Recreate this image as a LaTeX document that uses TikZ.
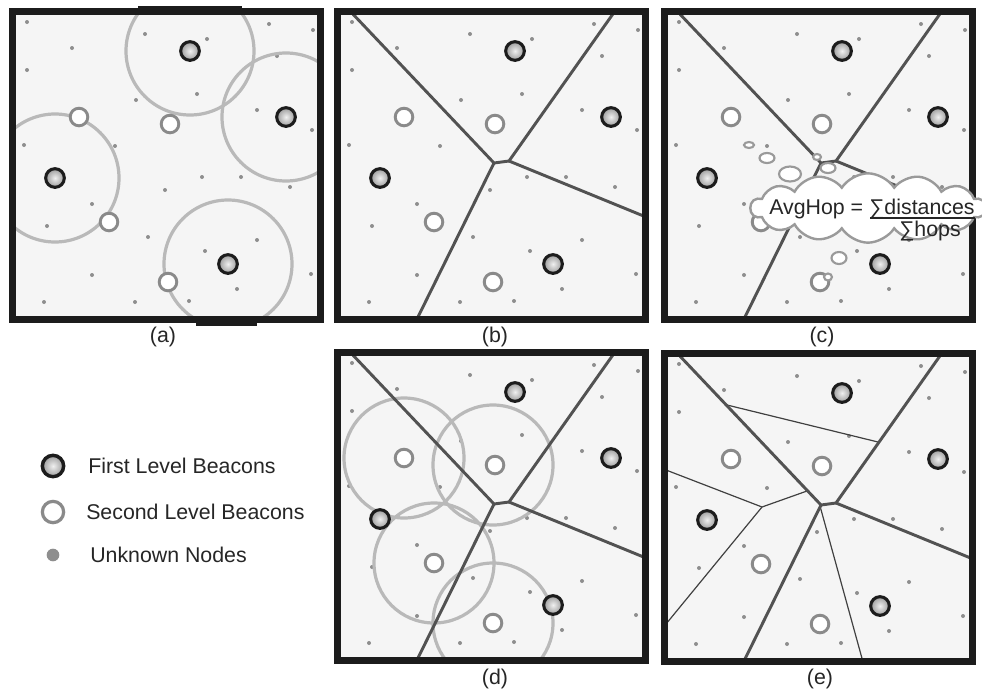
\documentclass[tikz,border=0pt]{standalone}
\usepackage{fontspec}
\setmainfont{Liberation Sans}
\usetikzlibrary{shapes.symbols,calc}
\definecolor{framec}{HTML}{1C1C1C}
\definecolor{panelc}{HTML}{F5F5F5}
\definecolor{vorc}{HTML}{525252}
\definecolor{rangec}{HTML}{B9B9B9}
\definecolor{ringc}{HTML}{8A8A8A}
\definecolor{dotc}{HTML}{8E8E8E}
\definecolor{bubc}{HTML}{9A9A9A}
\tikzset{
  x=0.75pt, y=-0.75pt,
  txt/.style={font=\fontsize{16}{19}\selectfont, inner sep=0pt, text=black!85},
  fb/.style={circle, draw=framec, line width=2.3pt, minimum size=14pt, inner sep=0pt, inner color=gray!12, outer color=gray!78},
  sb/.style={circle, draw=ringc, line width=2.2pt, minimum size=13.2pt, inner sep=0pt, fill=white},
  unk/.style={circle, fill=dotc, minimum size=3pt, inner sep=0pt},
  frame/.style={draw=framec, line width=5.25pt},
  vor/.style={draw=vorc, line width=2.2pt},
  thin/.style={draw=black!75, line width=0.9pt},
  rng/.style={draw=rangec, line width=2.4pt},
  bub/.style={draw=bubc, line width=1.6pt, fill=white},
}
\newcommand\netdots[1]{%
  \foreach \px/\py [count=\i] in {27/22,72/48,27/70,145/34,207/39,269/24,313/30,277/56,197/94,136/100,257/110,312/130,24/145,115/146,202/177,241/177,165/190,290/187,92/204,47/226,148/237,257/240,205/251,92/275,311/274,237/289,44/302,135/302,189/301}
    {\node[unk] (#1u\i) at (\px,\py) {};}%
}
\newcommand\netbeacons[1]{%
  \node[sb] (#1s1) at (79,117) {};
  \node[sb] (#1s2) at (170,124) {};
  \node[sb] (#1s3) at (109,222) {};
  \node[sb] (#1s4) at (168,282) {};
  \node[fb] (#1f1) at (190,51) {};
  \node[fb] (#1f2) at (286,117) {};
  \node[fb] (#1f3) at (55,178) {};
  \node[fb] (#1f4) at (228,264) {};
}
\newcommand\netvor[1]{%
  \coordinate (#1v1) at (25,11);
  \coordinate (#1j1) at (169,163);
  \coordinate (#1j2) at (184,161);
  \coordinate (#1v2) at (290,11);
  \coordinate (#1v3) at (321,217);
  \coordinate (#1v4) at (91,321);
  \draw[vor] (#1v1) -- (#1j1) -- (#1j2) -- (#1v2);
  \draw[vor] (#1j2) -- (#1v3);
  \draw[vor] (#1j1) -- (#1v4);
}
\newcommand\panelbg{\fill[panelc] (16,15) rectangle (317,317);}
\newcommand\panelframe{\draw[frame] (12.5,11.5) rectangle (320.5,319.5);}
\begin{document}
\begin{tikzpicture}
\useasboundingbox[fill=white] (0,0) rectangle (982,690);
% ---------- (a)
\begin{scope}
  \panelbg
  \netdots{a}
  \begin{scope}
    \clip (16,15) rectangle (317,317);
    \coordinate (ac1) at (190,51);
    \coordinate (ac2) at (286,117);
    \coordinate (ac3) at (55,178);
    \coordinate (ac4) at (228,264);
    \foreach \k in {1,...,4} {\draw[rng] (ac\k) circle (64);}
  \end{scope}
  \netbeacons{a}
  \panelframe
  \fill[framec] (138,6) rectangle (242,15);
  \fill[framec] (196,316) rectangle (257,326);
\end{scope}
% ---------- (b)
\begin{scope}[shift={(325,0)}]
  \panelbg
  \netdots{b}
  \netvor{b}
  \netbeacons{b}
  \panelframe
\end{scope}
% ---------- (c)
\begin{scope}[shift={(652,0)}]
  \panelbg
  \netdots{c}
  \netvor{c}
  \netbeacons{c}
  \panelframe
\end{scope}
% ---------- (d)
\begin{scope}[shift={(325,341)}]
  \panelbg
  \netdots{d}
  \begin{scope}
    \clip (16,15) rectangle (317,317);
    \coordinate (dc1) at (79,117);
    \coordinate (dc2) at (168,124);
    \coordinate (dc3) at (109,222);
    \coordinate (dc4) at (168,282);
    \foreach \k in {1,...,4} {\draw[rng] (dc\k) circle (60);}
  \end{scope}
  \netvor{d}
  \netbeacons{d}
  \panelframe
\end{scope}
% ---------- (e)
\begin{scope}[shift={(652,342)}]
  \panelbg
  \netdots{e}
  \coordinate (ea1) at (75,63);
  \coordinate (ea2) at (226,100);
  \coordinate (eb1) at (14,128);
  \coordinate (eb2) at (110,165);
  \coordinate (eb3) at (155,149);
  \coordinate (eb4) at (14,282);
  \coordinate (ec1) at (168,164);
  \coordinate (ec2) at (211,320);
  \draw[thin] (ea1) -- (ea2);
  \draw[thin] (eb1) -- (eb2) -- (eb3);
  \draw[thin] (eb2) -- (eb4);
  \draw[thin] (ec1) -- (ec2);
  \netvor{e}
  \netbeacons{e}
  \panelframe
\end{scope}
% ---------- cloud in (c)
\node[cloud, cloud puffs=14, cloud puff arc=115, cloud ignores aspect, draw=bubc, line width=1.8pt, fill=white, minimum width=176pt, minimum height=52pt] (cloud) at (868,208) {};
\draw[bub] (749,145) ellipse (5 and 3);
\draw[bub] (767,158) ellipse (7.5 and 5);
\draw[bub] (790,174) ellipse (11 and 7.5);
\draw[bub] (817,157) ellipse (4 and 3);
\draw[bub] (828,168) ellipse (7.5 and 5);
\draw[bub] (839,258) ellipse (7.5 and 6);
\draw[bub] (828,277) ellipse (4 and 3.5);
\node[txt, anchor=base east] (avg) at (867,214) {AvgHop =\,};
\node[txt, anchor=base west] (num) at (869,214) {∑distances};
\node[txt, anchor=base] (den) at (930,236) {∑hops};
\draw[black!85, line width=0.8pt] ($(num.base west)+(1,4)$) -- ($(num.base east)+(0,4)$);
% ---------- labels
\node[txt] (la) at (163,337) {(a)};
\node[txt] (lb) at (495,337) {(b)};
\node[txt] (lc) at (822,337) {(c)};
\node[txt] (ld) at (495,679) {(d)};
\node[txt] (le) at (820,679) {(e)};
% ---------- legend
\node[fb, minimum size=16pt, line width=2.6pt] (k1) at (53,466) {};
\node[sb, minimum size=16pt, line width=2.4pt] (k2) at (53,512) {};
\node[unk, minimum size=9.5pt] (k3) at (53,555) {};
\node[txt, anchor=west] (t1) at (88,466) {First Level Beacons};
\node[txt, anchor=west] (t2) at (86,512) {Second Level Beacons};
\node[txt, anchor=west] (t3) at (90,555) {Unknown Nodes};
\end{tikzpicture}
\end{document}
